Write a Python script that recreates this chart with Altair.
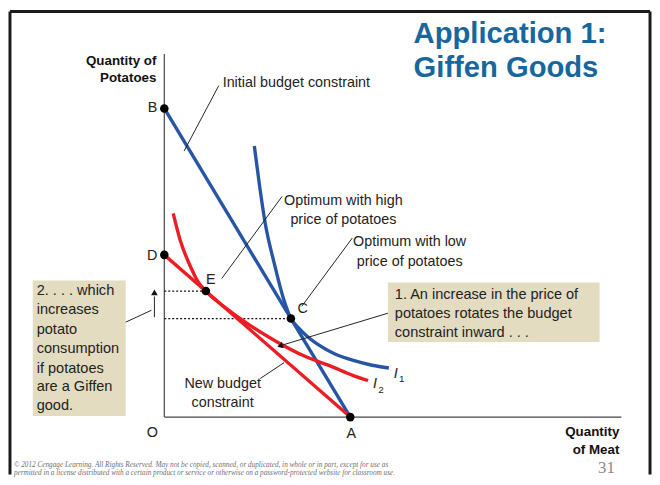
import altair as alt
import pandas as pd

# ---- coordinate frame (quantity of meat on x, quantity of potatoes on y) ----
XDOM = [-7.9, 24.65]
YDOM = [-2.9, 20.55]

# ---- budget constraints ----
initial_budget_x = [0.0, 9.4]
initial_budget_y = [15.6, 0.0]
new_budget_x = [0.0, 9.4]
new_budget_y = [8.2, 0.0]

# ---- indifference curves ----
i1_x = [4.55, 4.8, 5.1, 5.55, 6.05, 6.4, 6.75, 7.2, 7.8, 8.6, 9.6, 10.5, 11.35]
i1_y = [13.7, 11.8, 9.8, 7.8, 5.9, 4.98, 4.55, 4.1, 3.65, 3.2, 2.85, 2.62, 2.48]
i2_x = [0.45, 0.8, 1.35, 1.7, 2.1, 3.0, 4.2, 5.7, 7.05, 8.35, 9.55, 10.3]
i2_y = [10.3, 8.95, 7.55, 6.85, 6.37, 5.6, 4.72, 3.8, 3.1, 2.6, 2.1, 1.85]

# ---- labelled points ----
point_names = ["B", "D", "E", "C", "A"]
point_x = [0.0, 0.0, 2.1, 6.4, 9.4]
point_y = [15.6, 8.2, 6.37, 4.98, 0.0]
point_label_x = [-0.35, -0.35, 2.35, 7.0, 9.45]
point_label_y = [15.6, 8.15, 6.95, 5.45, -0.85]

# ---- axes ----
axis_x = [0.0, 0.0]
axis_y = [0.0, 0.0]
axis_x2 = [0.0, 23.1]
axis_y2 = [18.35, 0.0]

# ---- dotted guides (from y-axis to optimum points) ----
guide_y = [6.37, 4.98]
guide_x2 = [2.1, 6.4]

# ---- leader lines ----
leader_x = [2.75, 5.95, 9.5, 11.3, -1.95, 4.85, -0.5]
leader_y = [16.75, 11.15, 9.05, 5.25, 4.8, 1.95, 5.05]
leader_x2 = [1.0, 2.9, 6.95, 6.0, -0.65, 6.05, -0.5]
leader_y2 = [13.45, 7.0, 5.6, 3.65, 5.4, 2.75, 6.1]
arrow_x = [5.85, -0.5]
arrow_y = [3.6, 6.3]
arrow_angle = [253, 0]

# ---- annotation boxes ----
box_x = [11.3, -6.65]
box_x2 = [22.0, -1.95]
box_y = [6.8, 6.9]
box_y2 = [3.8, 0.05]

# ---- frame ----
frame_x = [-7.8, 24.55, -7.8]
frame_x2 = [-7.8, 24.55, 24.55]
frame_y = [-2.9, -2.9, 20.5]
frame_y2 = [20.5, 20.5, 20.5]

# ---- texts ----
title_lines = ["Application 1:", "Giffen Goods"]
title_x = [12.6, 12.6]
title_y = [18.9, 17.2]

ylabel_lines = ["Quantity of", "Potatoes"]
ylabel_x = [-0.4, -0.4]
ylabel_y = [18.0, 17.15]
xlabel_lines = ["Quantity", "of Meat"]
xlabel_x = [23.0, 23.0]
xlabel_y = [-0.75, -1.65]

left_notes = ["Initial budget constraint"]
left_notes_x = [2.95]
left_notes_y = [16.9]

center_notes = ["Optimum with high", "price of potatoes", "Optimum with low",
                "price of potatoes", "New budget", "constraint", "O"]
center_notes_x = [9.05, 9.05, 12.4, 12.4, 2.95, 2.95, -0.6]
center_notes_y = [10.9, 9.95, 8.85, 7.85, 1.65, 0.7, -0.8]

box1_lines = ["1. An increase in the price of", "potatoes rotates the budget",
              "constraint inward . . ."]
box1_x = [11.65, 11.65, 11.65]
box1_y = [6.15, 5.2, 4.25]

box2_lines = ["2. . . . which", "increases", "potato", "consumption",
              "if potatoes", "are a Giffen", "good."]
box2_x = [-6.45] * 7
box2_y = [6.35, 5.4, 4.4, 3.45, 2.45, 1.5, 0.55]

curve_names = ["I", "I"]
curve_name_x = [11.6, 10.55]
curve_name_y = [2.2, 1.65]
curve_sub = ["1", "2"]
curve_sub_x = [11.86, 10.81]
curve_sub_y = [1.9, 1.35]

page_number = ["31"]
page_number_x = [22.35]
page_number_y = [-2.55]

copyright_lines = [
    "\u00a9 2012 Cengage Learning. All Rights Reserved. May not be copied, scanned, or duplicated, in whole or in part, except for use as",
    "permitted in a license distributed with a certain product or service or otherwise on a password-protected website for classroom use.",
]
copyright_x = [-7.6, -7.6]
copyright_y = [-2.4, -2.82]

# ---------------------------------------------------------------------------
FONT = "Liberation Sans"
BLUE = "#2755a6"
RED = "#ec1c24"
TITLE_BLUE = "#17679e"
BOX_FILL = "#e3dcc1"

xs = alt.Scale(domain=XDOM, nice=False, zero=False)
ys = alt.Scale(domain=YDOM, nice=False, zero=False)


def X(f):
    return alt.X(f, type="quantitative", scale=xs, axis=None)


def Y(f):
    return alt.Y(f, type="quantitative", scale=ys, axis=None)


def X2(f):
    return alt.X2(f)


def Y2(f):
    return alt.Y2(f)


def texts(lines, xv, yv, **kw):
    df = pd.DataFrame({"t": lines, "x": xv, "y": yv})
    return alt.Chart(df).mark_text(font=FONT, **kw).encode(x=X("x"), y=Y("y"), text="t:N")


def rules(xv, yv, x2v, y2v, **kw):
    df = pd.DataFrame({"x": xv, "y": yv, "x2": x2v, "y2": y2v})
    return alt.Chart(df).mark_rule(**kw).encode(x=X("x"), y=Y("y"), x2=X2("x2"), y2=Y2("y2"))


def curve(xv, yv, color, interp="linear"):
    df = pd.DataFrame({"x": xv, "y": yv})
    return alt.Chart(df).mark_line(color=color, strokeWidth=3.4, interpolate=interp,
                                   strokeCap="butt").encode(x=X("x"), y=Y("y"), order="x:Q")


frame = rules(frame_x, frame_y, frame_x2, frame_y2, color="#1b1b1b", strokeWidth=3)
axes = rules(axis_x, axis_y, axis_x2, axis_y2, color="#444444", strokeWidth=1.2)
guides = rules([0.0, 0.0], guide_y, guide_x2, guide_y, color="#111111",
               strokeWidth=1.3, strokeDash=[2, 2])
leaders = rules(leader_x, leader_y, leader_x2, leader_y2, color="#222222", strokeWidth=1)

arrows = alt.Chart(pd.DataFrame({"x": arrow_x, "y": arrow_y, "a": arrow_angle})).mark_point(
    shape="triangle-up", filled=True, color="#111111", size=45, opacity=1
).encode(x=X("x"), y=Y("y"), angle=alt.Angle("a:Q", scale=None))

boxes = alt.Chart(pd.DataFrame({"x": box_x, "x2": box_x2, "y": box_y, "y2": box_y2})).mark_rect(
    color=BOX_FILL
).encode(x=X("x"), x2=X2("x2"), y=Y("y"), y2=Y2("y2"))

bl_initial = curve(initial_budget_x, initial_budget_y, BLUE)
bl_new = curve(new_budget_x, new_budget_y, RED)
ic1 = curve(i1_x, i1_y, BLUE, "monotone")
ic2 = curve(i2_x, i2_y, RED, "monotone")

points = alt.Chart(pd.DataFrame({"x": point_x, "y": point_y})).mark_circle(
    color="black", size=75, opacity=1
).encode(x=X("x"), y=Y("y"))

pl_left = texts(point_names[:2], point_label_x[:2], point_label_y[:2], fontSize=14.5,
                align="right", baseline="middle", color="#222222")
pl_center = texts(point_names[2:], point_label_x[2:], point_label_y[2:], fontSize=14.5,
                  align="center", baseline="middle", color="#222222")

title = texts(title_lines, title_x, title_y, fontSize=29.5, fontWeight="bold", align="left",
              baseline="alphabetic", color=TITLE_BLUE)
ylab = texts(ylabel_lines, ylabel_x, ylabel_y, fontSize=13.5, fontWeight="bold",
             align="right", baseline="middle", color="#111111")
xlab = texts(xlabel_lines, xlabel_x, xlabel_y, fontSize=13.5, fontWeight="bold",
             align="right", baseline="middle", color="#111111")
lnotes = texts(left_notes, left_notes_x, left_notes_y, fontSize=14.5, align="left",
               baseline="middle", color="#222222")
cnotes = texts(center_notes, center_notes_x, center_notes_y, fontSize=14.5, align="center",
               baseline="middle", color="#222222")
b1 = texts(box1_lines, box1_x, box1_y, fontSize=14.7, align="left", baseline="middle",
           color="#222222")
b2 = texts(box2_lines, box2_x, box2_y, fontSize=14.7, align="left", baseline="middle",
           color="#222222")
cn = texts(curve_names, curve_name_x, curve_name_y, fontSize=14.5, fontStyle="italic",
           align="left", baseline="middle", color="#222222")
cs = texts(curve_sub, curve_sub_x, curve_sub_y, fontSize=10, align="left",
           baseline="middle", color="#222222")
pn = alt.Chart(pd.DataFrame({"t": page_number, "x": page_number_x, "y": page_number_y})).mark_text(
    font="Liberation Serif", fontSize=17, align="center", baseline="middle", color="#8a8a8a"
).encode(x=X("x"), y=Y("y"), text="t:N")
cr = alt.Chart(pd.DataFrame({"t": copyright_lines, "x": copyright_x, "y": copyright_y})).mark_text(
    font="Liberation Serif", fontSize=7.3, fontStyle="italic", align="left",
    baseline="middle", color="#6f6f6f"
).encode(x=X("x"), y=Y("y"), text="t:N")

chart = alt.layer(
    frame, boxes, axes, guides, bl_initial, bl_new, ic1, ic2, leaders, arrows,
    points, pl_left, pl_center, title, ylab, xlab, lnotes, cnotes, b1, b2, cn, cs, pn, cr
).properties(
    width=651, height=469, padding=0, autosize=alt.AutoSizeParams(type="none"),
    background="white"
).configure_view(stroke=None)

chart.save("out.html", embed_options={"renderer": "svg", "actions": False})
